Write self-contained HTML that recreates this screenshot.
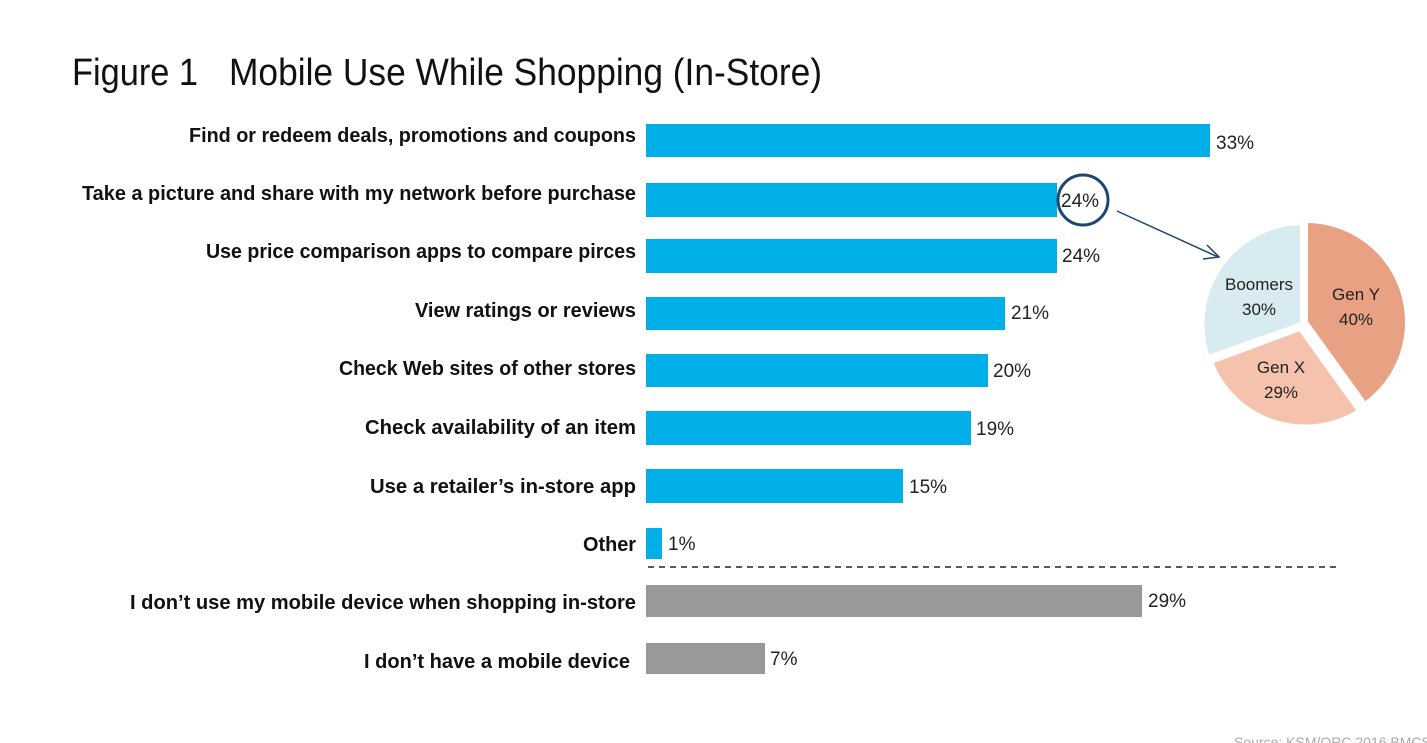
<!DOCTYPE html>
<html><head><style>body{margin:0;background:#fff}svg{display:block}</style></head>
<body>
<svg width="1427" height="743" viewBox="0 0 1427 743" xmlns="http://www.w3.org/2000/svg" font-family="Liberation Sans, sans-serif">
<text x="72" y="85" font-size="38" fill="#111" textLength="126" lengthAdjust="spacingAndGlyphs">Figure 1</text>
<text x="229" y="85" font-size="38" fill="#111" textLength="593" lengthAdjust="spacingAndGlyphs">Mobile Use While Shopping (In-Store)</text>
<g font-weight="bold" font-size="20" fill="#111" text-anchor="end">
<text x="636" y="142" textLength="447" lengthAdjust="spacingAndGlyphs">Find or redeem deals, promotions and coupons</text>
<text x="636" y="200" textLength="554" lengthAdjust="spacingAndGlyphs">Take a picture and share with my network before purchase</text>
<text x="636" y="258" textLength="430" lengthAdjust="spacingAndGlyphs">Use price comparison apps to compare pirces</text>
<text x="636" y="317" textLength="221" lengthAdjust="spacingAndGlyphs">View ratings or reviews</text>
<text x="636" y="375" textLength="297" lengthAdjust="spacingAndGlyphs">Check Web sites of other stores</text>
<text x="636" y="434" textLength="271" lengthAdjust="spacingAndGlyphs">Check availability of an item</text>
<text x="636" y="493" textLength="266" lengthAdjust="spacingAndGlyphs">Use a retailer’s in-store app</text>
<text x="636" y="551" textLength="53" lengthAdjust="spacingAndGlyphs">Other</text>
<text x="636" y="609" textLength="506" lengthAdjust="spacingAndGlyphs">I don’t use my mobile device when shopping in-store</text>
<text x="630" y="668" textLength="266" lengthAdjust="spacingAndGlyphs">I don’t have a mobile device</text>
</g>
<g fill="#00aee8">
<rect x="646" y="124" width="564" height="33"/>
<rect x="646" y="183" width="411" height="34"/>
<rect x="646" y="239" width="411" height="34"/>
<rect x="646" y="297" width="359" height="33"/>
<rect x="646" y="354" width="342" height="33"/>
<rect x="646" y="411" width="325" height="34"/>
<rect x="646" y="469" width="257" height="34"/>
<rect x="646" y="528" width="16" height="31"/>
</g>
<g fill="#999">
<rect x="646" y="585" width="496" height="32"/>
<rect x="646" y="643" width="119" height="31"/>
</g>
<line x1="648" y1="567" x2="1336" y2="567" stroke="#222" stroke-width="1.5" stroke-dasharray="6,5"/>
<g font-size="19" fill="#222">
<text x="1216" y="149">33%</text>
<text x="1061" y="207">24%</text>
<text x="1062" y="262">24%</text>
<text x="1011" y="319">21%</text>
<text x="993" y="377">20%</text>
<text x="976" y="435">19%</text>
<text x="909" y="493">15%</text>
<text x="668" y="550">1%</text>
<text x="1148" y="607">29%</text>
<text x="770" y="665">7%</text>
</g>
<circle cx="1083" cy="200" r="25" fill="none" stroke="#1d4670" stroke-width="3"/>
<line x1="1117" y1="211" x2="1218" y2="257" stroke="#1d4670" stroke-width="1.5"/>
<polyline points="1207,245 1219,257 1203,259" fill="none" stroke="#1d4670" stroke-width="1.5"/>
<g stroke="#fff" stroke-width="4">
<path d="M1306,322 L1306,221 A101,101 0 0 1 1365,404 Z" fill="#e8a183"/>
<path d="M1300,329 L1359,411 A101,101 0 0 1 1211,362 Z" fill="#f5c3ad"/>
<path d="M1302,324 L1208,357 A101,101 0 0 1 1302,223 Z" fill="#d7ebf0"/>
</g>
<g font-size="17" fill="#222" text-anchor="middle">
<text x="1259" y="290">Boomers</text><text x="1259" y="315">30%</text>
<text x="1356" y="300">Gen Y</text><text x="1356" y="325">40%</text>
<text x="1281" y="373">Gen X</text><text x="1281" y="398">29%</text>
</g>
<text x="1234" y="747" font-size="14" fill="#aaa">Source: KSM/ORC 2016 BMCS</text>
</svg>
</body></html>
